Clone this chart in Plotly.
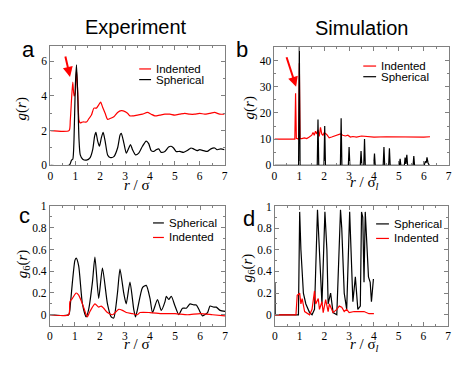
import plotly.graph_objects as go

W, H = 463, 381

# ---- panel a : experiment g(r) ----
a_sph_r = [0, 0.75, 0.8, 0.85, 0.9, 0.95, 1.0, 1.05, 1.1, 1.15, 1.2, 1.3, 1.45, 1.6, 1.7, 1.78, 1.83, 1.9, 1.97,
           2.05, 2.12, 2.2, 2.3, 2.4, 2.55, 2.7, 2.8, 2.85, 2.95, 3.05, 3.15, 3.22, 3.3, 3.42, 3.55, 3.7, 3.85,
           3.95, 4.05, 4.15, 4.25, 4.35, 4.45, 4.6, 4.75, 4.85, 4.95, 5.05, 5.2, 5.35, 5.5, 5.65, 5.75, 5.9,
           6.0, 6.15, 6.3, 6.45, 6.6, 6.7, 6.85, 7.0]
a_sph_g = [0, 0, 0.1, 0.3, 0.35, 1.5, 4.5, 5.8, 4.0, 1.5, 0.6, 0.35, 0.3, 0.45, 0.9, 1.7, 1.9, 1.4, 1.1,
           1.6, 1.9, 1.4, 0.6, 0.45, 0.5, 1.0, 1.75, 1.85, 1.3, 0.7, 1.0, 1.2, 0.9, 0.6, 0.7, 1.1, 1.4,
           1.25, 0.85, 0.8, 0.9, 0.95, 0.75, 0.8, 1.05, 1.1, 1.0, 0.8, 0.8, 0.75, 0.85, 1.0, 0.95, 0.85,
           0.9, 0.85, 0.8, 0.95, 1.0, 0.9, 0.95, 0.9]
a_ind_r = [0, 0.75, 0.8, 0.85, 0.9, 0.95, 1.0, 1.05, 1.1, 1.15, 1.2, 1.3, 1.45, 1.55, 1.65, 1.75, 1.85, 1.95,
           2.02, 2.1, 2.2, 2.3, 2.4, 2.55, 2.7, 2.85, 3.0, 3.1, 3.2, 3.3, 3.5, 3.7, 3.9, 4.05, 4.2, 4.4, 4.6,
           4.8, 5.0, 5.2, 5.4, 5.6, 5.8, 6.0, 6.2, 6.4, 6.6, 6.8, 7.0]
a_ind_g = [2, 2, 2.6, 3.8, 4.8, 4.0, 4.2, 5.5, 4.2, 2.6, 2.45, 2.5, 2.5, 2.7, 2.9, 3.3, 3.3, 3.5,
           3.65, 3.35, 3.0, 2.65, 2.7, 2.8, 3.05, 3.15, 3.1, 3.0, 2.85, 2.85, 2.9, 2.95, 3.05, 2.95, 2.85, 2.9, 2.95,
           2.95, 2.9, 2.95, 3.0, 2.95, 2.95, 3.0, 2.95, 3.0, 3.05, 2.95, 2.95]

# ---- panel b : simulation g(r) ----
b_sph_r = [0, 0.97, 1.0, 1.03, 1.72, 1.75, 1.78, 1.99, 2.02, 2.05, 2.65, 2.68, 2.71, 2.97, 3.0, 3.03, 3.45, 3.48,
           3.51, 3.59, 3.62, 3.65, 3.99, 4.02, 4.05, 4.37, 4.4, 4.43, 4.59, 4.62, 4.65, 5.02, 5.05, 5.08, 5.22,
           5.25, 5.28, 5.32, 5.35, 5.57, 5.6, 5.63, 6.02, 6.06, 6.1, 6.13, 6.17, 6.22]
b_sph_g = [0, 0, 46, 0, 0, 17.5, 0, 0, 15, 0, 0, 18, 0, 0, 7, 0, 0, 5.5,
           0, 0, 10, 0, 0, 4.5, 0, 0, 7, 0, 0, 6.5, 0, 0, 2.5, 0, 0,
           3, 0.5, 4, 0, 0, 3.5, 0, 0, 1.5, 1, 3, 1, 0]
b_ind_r = [0, 0.82, 0.85, 0.88, 0.97, 1.0, 1.03, 1.1, 1.2, 1.3, 1.4, 1.5, 1.55, 1.6, 1.65, 1.7, 1.75, 1.8, 1.85,
           1.9, 1.95, 2.0, 2.1, 2.2, 2.3, 2.45, 2.55, 2.65, 2.75, 2.85, 2.95, 3.05, 3.15, 3.3, 3.5, 3.7, 4.0,
           4.5, 5.0, 5.5, 6.0, 6.25]
b_ind_g = [10, 10, 27.5, 10.3, 10, 39, 10.2, 10.2, 10.5, 10.2, 10.8, 11.5, 12.5, 11.5, 13, 12, 13.5, 11, 14.5,
           12, 11.5, 12.5, 11.8, 10.5, 10.8, 11.2, 11.5, 12, 11.5, 11.2, 11.5, 10.8, 11, 10.8, 11.2, 11, 10.8,
           10.9, 10.8, 10.9, 10.8, 10.9]

# ---- panel c : experiment g6(r) ----
c_sph_r = [0, 0.75, 0.82, 0.9, 1.0, 1.05, 1.15, 1.3, 1.45, 1.55, 1.7, 1.8, 1.95, 2.1, 2.3, 2.45, 2.55, 2.7, 2.8,
           2.95, 3.05, 3.2, 3.35, 3.42, 3.5, 3.7, 3.85, 4.0, 4.1, 4.3, 4.45, 4.6, 4.65, 4.75, 4.85, 5.0, 5.15,
           5.3, 5.45, 5.6, 5.75, 5.85, 5.95, 6.1, 6.3, 6.4, 6.55, 6.65, 6.8, 7.0]
c_sph_g = [0, 0, 0.1, 0.3, 0.5, 0.52, 0.45, 0.1, -0.02, 0.05, 0.3, 0.53, 0.15, 0.43, 0.1, -0.02, -0.03, 0.2, 0.42,
           0.2, 0.1, 0.3, 0.05, -0.02, 0.05, 0.25, 0.27, 0.15, 0.02, 0.14, 0.04, 0.12, 0.17, 0.14, 0.17, 0.08, 0.0,
           0.06, 0.06, 0.1, 0.09, 0.09, 0.05, -0.01, 0.02, 0.08, 0.07, 0.07, 0.04, 0.03]
c_ind_r = [0, 0.75, 0.8, 0.9, 1.05, 1.15, 1.3, 1.45, 1.5, 1.6, 1.8, 1.95, 2.05, 2.15, 2.3, 2.5, 2.65, 2.75, 2.9,
           3.05, 3.3, 3.5, 3.6, 4.0, 4.5, 5.0, 5.5, 6.0, 6.5, 7.0]
c_ind_g = [0, 0, 0.12, 0.15, 0.2, 0.18, 0.1, 0.0, -0.02, 0.03, 0.1, 0.07, 0.08, 0.06, 0.02, 0.0, 0.03, 0.05, 0.04,
           0.02, 0.01, 0.0, 0.02, 0.02, 0.01, 0.01, 0.0, 0.01, 0.0, -0.01]

# ---- panel d : simulation g6(r) ----
d_sph_r = [0, 0.01, 0.95, 1.0, 1.05, 1.15, 1.25, 1.4, 1.5, 1.6, 1.72, 1.8, 1.9, 2.02, 2.1, 2.15, 2.25, 2.35, 2.5,
           2.65, 2.7, 2.8, 2.9, 3.02, 3.1, 3.15, 3.25, 3.35, 3.45, 3.5, 3.55, 3.6, 3.65, 3.78, 3.85, 3.9, 3.98]
d_sph_g = [0.3, 0, 0, 0.95, 0.6, 0.2, 0.1, 0.02, 0, 0.05, 0.97, 0.6, 0.1, 0.95, 0.6, 0.1, 0.2, 0.02, 0,
           0.97, 0.8, 0.2, 0.05, 0.95, 0.5, 0.12, 0.35, 0.05, 0.08, 0.95, 0.9, 0.3, 0.95, 0.35, 0.3, 0.12, 0.33]
d_ind_r = [0, 0.85, 0.9, 1.0, 1.05, 1.1, 1.2, 1.4, 1.5, 1.6, 1.65, 1.75, 1.8, 1.9, 1.95, 2.05, 2.15, 2.2, 2.35,
           2.5, 2.6, 2.7, 2.8, 2.9, 3.0, 3.2, 3.4, 3.6, 3.8, 4.0]
d_ind_g = [0, 0, 0.18, 0.2, 0.1, 0.15, 0.03, 0, 0.05, 0.22, 0.1, 0.15, 0.05, 0.12, 0.02, 0.14, 0.03, 0.1, 0.02,
           0.05, 0.08, 0.07, 0.03, 0.05, 0.02, 0.03, 0.03, 0.03, 0.01, 0.01]

RED = "#ff0000"
BLK = "#000000"


def px(x):
    return x / W


def py(y):
    return 1 - y / H


fig = go.Figure()


def line(r, g, color, ax, smooth=True):
    fig.add_trace(go.Scatter(x=r, y=g, mode="lines", xaxis="x" + ax, yaxis="y" + ax,
                             line=dict(color=color, width=1.2, shape="spline" if smooth else "linear",
                                       smoothing=0.6),
                             showlegend=False, hoverinfo="skip"))


line(a_ind_r, a_ind_g, RED, "")
line(a_sph_r, a_sph_g, BLK, "")
line(b_ind_r, b_ind_g, RED, "2", smooth=False)
line(b_sph_r, b_sph_g, BLK, "2", smooth=False)
line(c_sph_r, c_sph_g, BLK, "3")
line(c_ind_r, c_ind_g, RED, "3")
line(d_sph_r, d_sph_g, BLK, "4", smooth=False)
line(d_ind_r, d_ind_g, RED, "4", smooth=False)

serif = "Liberation Serif, Times New Roman, DejaVu Serif, serif"
sans = "Liberation Sans, Arial, Helvetica, sans-serif"
tickfont = dict(family=serif, size=11.5, color="black")


def xax(x0, x1, anchor):
    return dict(domain=[px(x0), px(x1)], anchor=anchor, range=[0, 7], dtick=1,
                showgrid=False, zeroline=False, showline=True, linecolor="#808080", linewidth=1,
                mirror="allticks", ticks="inside", ticklen=4, tickcolor="#808080",
                minor=dict(ticks="inside", ticklen=2, dtick=0.5, tickcolor="#808080"),
                tickfont=tickfont)


def yax(y0, y1, anchor, rng, dtick, mdtick, fmt=None):
    d = dict(domain=[py(y1), py(y0)], anchor=anchor, range=rng, dtick=dtick, tick0=0,
             showgrid=False, zeroline=False, showline=True, linecolor="#808080", linewidth=1,
             mirror="allticks", ticks="inside", ticklen=4, tickcolor="#808080",
             minor=dict(ticks="inside", ticklen=2, dtick=mdtick, tickcolor="#808080"),
             tickfont=tickfont)
    if fmt:
        d["tickformat"] = fmt
    return d


fig.update_layout(
    width=W, height=H, margin=dict(l=0, r=0, t=0, b=0),
    paper_bgcolor="white", plot_bgcolor="white",
    xaxis=xax(48, 224.5, "y"),
    yaxis=yax(41, 164.5, "x", [0, 6.9], 2, 1),
    xaxis2=xax(275, 451.5, "y2"),
    yaxis2=yax(42, 164.5, "x2", [0, 45.3], 10, 5),
    xaxis3=xax(47.5, 225, "y3"),
    yaxis3=yax(206.5, 330, "x3", [-0.1, 1.0], 0.2, 0.1, "~g"),
    xaxis4=xax(275.5, 451, "y4"),
    yaxis4=yax(207, 330, "x4", [-0.1, 1.0], 0.2, 0.1, "~g"),
)

ann = []


def text(x, y, s, size, family=sans, angle=0, xanchor="center", color="black"):
    ann.append(dict(x=px(x), y=py(y), xref="paper", yref="paper", text=s, showarrow=False,
                    font=dict(family=family, size=size, color=color), textangle=angle,
                    xanchor=xanchor, yanchor="middle"))


# column titles and panel letters
text(134.5, 22, "Experiment", 20)
text(363.5, 23, "Simulation", 20)
text(26, 45, "a", 22)
text(242, 45, "b", 22)
text(22, 216, "c", 22)
text(249, 219, "d", 22)

# axis titles
gr = "<i>g</i>(<i>r</i>)"
g6 = "<i>g</i><sub>6</sub>(<i>r</i>)"
text(19, 106, gr, 15, serif, -90)
text(250, 105, gr, 15, serif, -90)
text(20, 266, g6, 15, serif, -90)
text(249, 270, g6, 15, serif, -90)
text(136, 185, "<i>r</i> / σ", 15, serif)
text(366, 183, "<i>r</i> / σ<sub><i>l</i></sub>", 15, serif)
text(136, 349, "<i>r</i> / σ", 15, serif)
text(366, 350, "<i>r</i> / σ<sub><i>l</i></sub>", 15, serif)

# legends (short line sample + label)
shapes = []
legends = [
    (138, 150, 65, "Indented", RED), (138, 150, 76, "Spherical", BLK),
    (365, 378, 62, "Indented", RED), (365, 378, 73, "Spherical", BLK),
    (152, 163, 224, "Spherical", BLK), (152, 163, 239, "Indented", RED),
    (378, 391, 225, "Spherical", BLK), (378, 391, 240, "Indented", RED),
]
for x0, x1, y, label, col in legends:
    shapes.append(dict(type="line", xref="paper", yref="paper", x0=px(x0), x1=px(x1), y0=py(y), y1=py(y),
                       line=dict(color=col, width=1.2)))
    text(x1 + 3, y, label, 11.5, sans, xanchor="left")

# red arrows pointing to the first (indented) peak
ann.append(dict(x=0.79, y=5.1, xref="x", yref="y", ax=-5, ay=-22, showarrow=True,
                arrowhead=2, arrowsize=1, arrowwidth=2, arrowcolor=RED, text=""))
ann.append(dict(x=0.87, y=30, xref="x2", yref="y2", ax=-10, ay=-31, showarrow=True,
                arrowhead=2, arrowsize=1, arrowwidth=2, arrowcolor=RED, text=""))

fig.update_layout(annotations=ann, shapes=shapes)

fig.write_html("out.html", config={"displayModeBar": False},
               post_script="document.body.style.margin='0';")
